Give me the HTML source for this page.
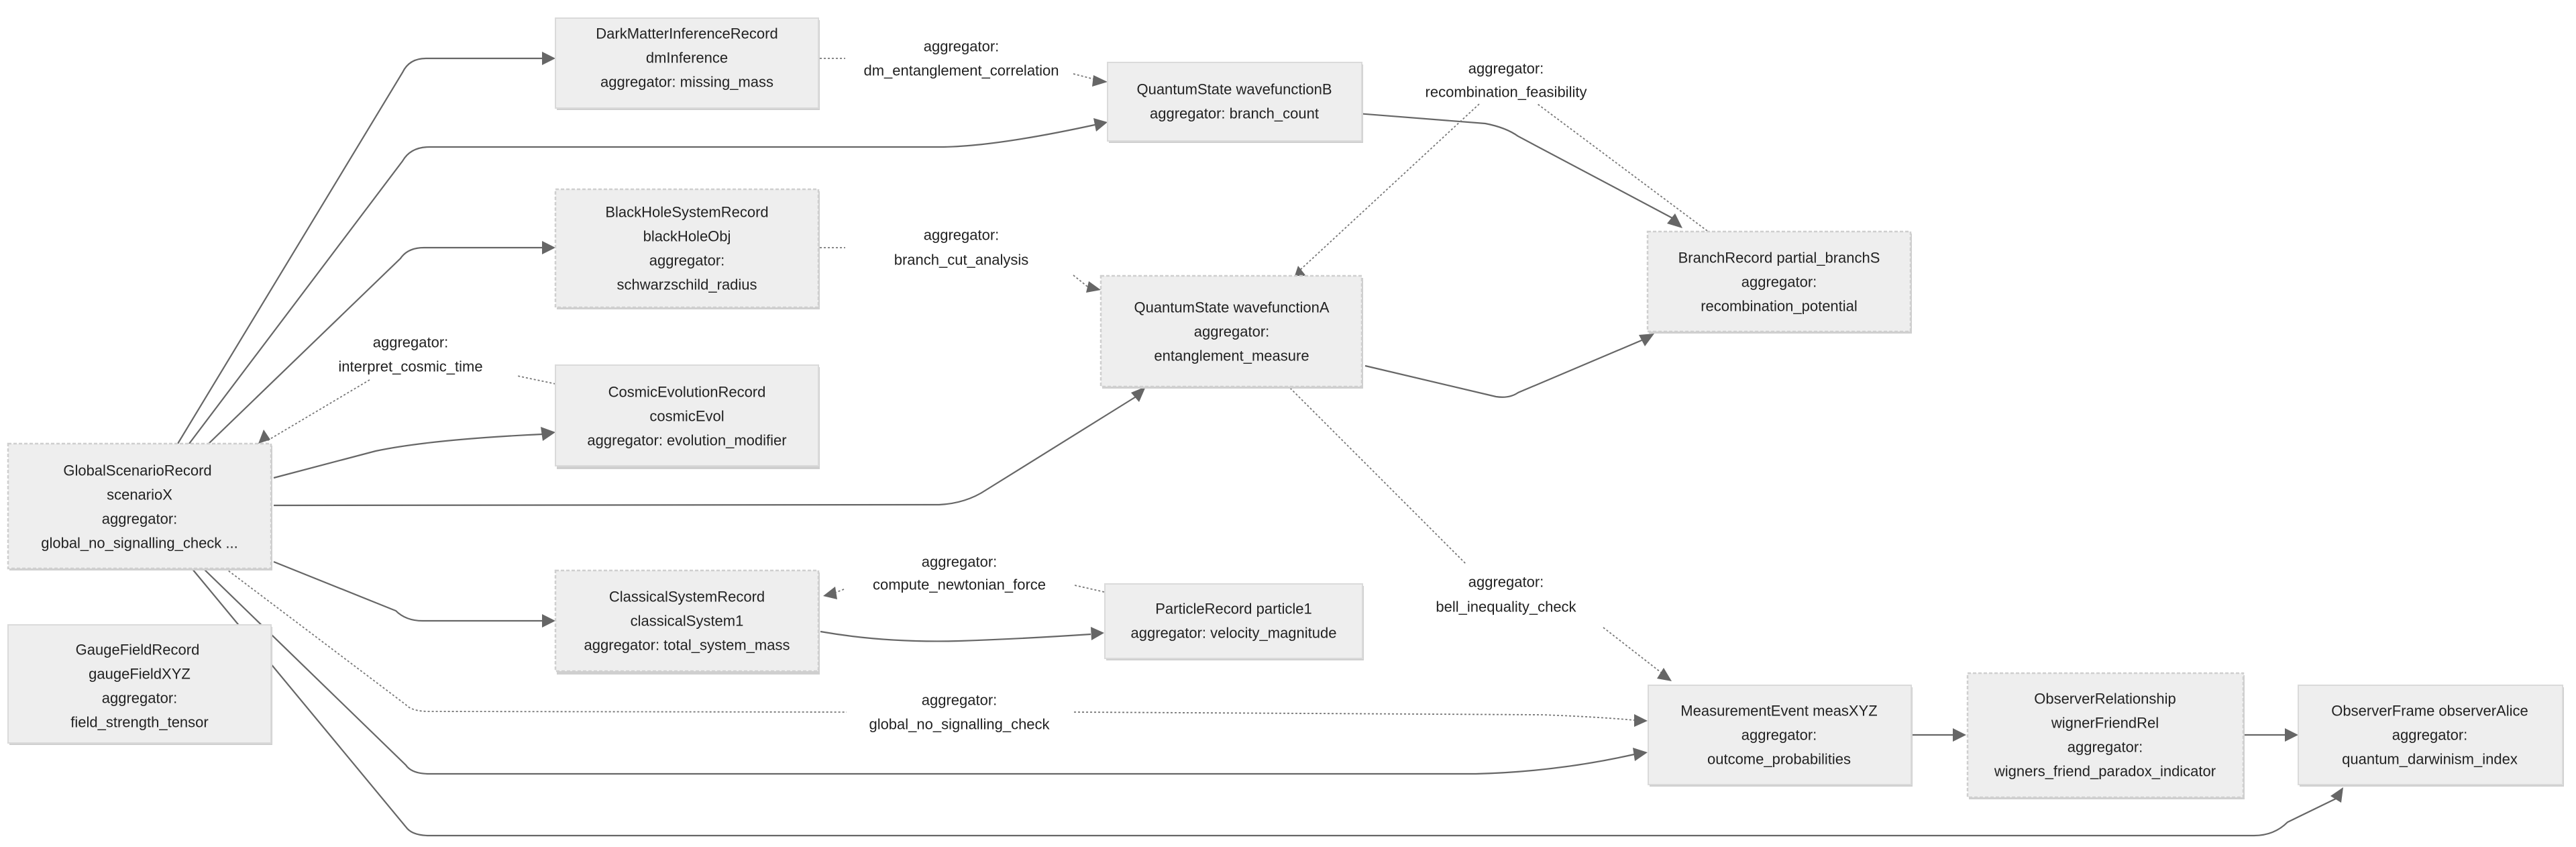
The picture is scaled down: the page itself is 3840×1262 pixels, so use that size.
<!DOCTYPE html>
<html><head><meta charset="utf-8"><style>
html,body{margin:0;padding:0;background:#fff;}
svg{display:block;}
text{font-family:"Liberation Sans",Arial,sans-serif;font-size:22px;fill:#222;text-anchor:middle;dominant-baseline:central;}
.s{fill:none;stroke:#666;stroke-width:2.2;}
.d{fill:none;stroke:#777;stroke-width:1.8;stroke-dasharray:3,3;}
.a{fill:#666;}
.n{fill:#eeeeee;stroke:#dadada;stroke-width:2;}
.nd{fill:#eeeeee;stroke:#cfcfcf;stroke-width:2.5;stroke-dasharray:5,3;}
.sh{fill:#cfcfcf;}
</style></head><body>
<svg width="3840" height="1262" viewBox="0 0 3840 1262" xmlns="http://www.w3.org/2000/svg">
<!-- edges solid -->
<path class="s" d="M265,661 L600,108 Q610,87 635,87 L808,87"/>
<polygon class="a" points="828,87 808,77 808,97"/>
<path class="s" d="M282,661 L600,240 Q612,219 640,219 L1400,219 Q1480,219 1632,186"/>
<polygon class="a" points="1651,182 1630,176 1634,196"/>
<path class="s" d="M311,661 L597,385 Q608,369 632,369 L808,369"/>
<polygon class="a" points="828,369 808,359 808,379"/>
<path class="s" d="M408,712 L560,672 Q640,655 808,647"/>
<polygon class="a" points="828,644 806,636 809,657"/>
<path class="s" d="M408,753 L1400,752 Q1440,750 1470,730 L1695,590"/>
<polygon class="a" points="1708,576 1686,585 1698,599"/>
<path class="s" d="M408,837 L590,910 Q605,925 630,925 L808,925"/>
<polygon class="a" points="828,925 808,915 808,935"/>
<path class="s" d="M303,847 L605,1140 Q614,1153 640,1153 L2200,1153 Q2320,1150 2436,1124"/>
<polygon class="a" points="2456,1121 2434,1114 2437,1134"/>
<path class="s" d="M286,847 L605,1232 Q614,1245 640,1245 L3360,1245 Q3390,1245 3410,1225 L3482,1190"/>
<polygon class="a" points="3493,1173 3474,1186 3490,1196"/>
<path class="s" d="M2023,169 L2214,184 Q2245,190 2263,203 L2495,326"/>
<polygon class="a" points="2508,340 2497,318 2485,333"/>
<path class="s" d="M2035,545 L2230,591 Q2250,594 2263,585 L2452,505"/>
<polygon class="a" points="2466,497 2443,499 2452,516"/>
<path class="s" d="M1223,941 Q1320,958 1430,955 Q1520,952 1626,945"/>
<polygon class="a" points="1646,943 1626,934 1627,954"/>
<path class="s" d="M2849,1095 L2911,1095"/>
<polygon class="a" points="2931,1095 2911,1085 2911,1105"/>
<path class="s" d="M3344,1095 L3406,1095"/>
<polygon class="a" points="3426,1095 3406,1085 3406,1105"/>
<!-- dotted -->
<path class="d" d="M828,572 L771,560"/>
<path class="d" d="M551,566 L396,658"/>
<polygon class="a" points="385,661 393,640 403,655"/>
<path class="d" d="M1222,87 L1260,87"/>
<path class="d" d="M1600,110 L1631,118"/>
<polygon class="a" points="1651,122 1630,112 1628,129"/>
<path class="d" d="M1222,369 L1260,369"/>
<path class="d" d="M1600,410 L1621,427"/>
<polygon class="a" points="1641,432 1623,419 1619,436"/>
<path class="d" d="M2545,344 L2292,155"/>
<path class="d" d="M2205,155 L1935,405"/>
<polygon class="a" points="1928,417 1935,396 1946,410"/>
<path class="d" d="M1919,574 L2185,840"/>
<path class="d" d="M2390,935 L2480,1005"/>
<polygon class="a" points="2492,1015 2480,995 2470,1011"/>
<path class="d" d="M1646,882 L1602,872"/>
<path class="d" d="M1258,878 L1245,883"/>
<polygon class="a" points="1227,888 1245,874 1248,893"/>
<path class="d" d="M336,847 L605,1050 Q614,1060 640,1060 L1262,1061"/>
<path class="d" d="M1601,1061 L2300,1065 Q2380,1068 2436,1073"/>
<polygon class="a" points="2456,1074 2436,1064 2436,1083"/>
<!-- edge labels -->
<text x="612" y="510">aggregator:</text><text x="612" y="546">interpret_cosmic_time</text>
<text x="1433" y="69">aggregator:</text><text x="1433" y="105">dm_entanglement_correlation</text>
<text x="1433" y="350">aggregator:</text><text x="1433" y="387">branch_cut_analysis</text>
<text x="2245" y="102">aggregator:</text><text x="2245" y="137">recombination_feasibility</text>
<text x="2245" y="867">aggregator:</text><text x="2245" y="904">bell_inequality_check</text>
<text x="1430" y="837">aggregator:</text><text x="1430" y="871">compute_newtonian_force</text>
<text x="1430" y="1043">aggregator:</text><text x="1430" y="1079">global_no_signalling_check</text>
<!-- nodes -->
<g>
<rect class="sh" x="830" y="30" width="392" height="134"/>
<rect class="n" x="828" y="27" width="392" height="134"/>
<text x="1024" y="50">DarkMatterInferenceRecord</text><text x="1024" y="86">dmInference</text><text x="1024" y="122">aggregator: missing_mass</text>

<rect class="sh" x="1653" y="96" width="379" height="117"/>
<rect class="n" x="1651" y="93" width="379" height="117"/>
<text x="1840" y="133">QuantumState wavefunctionB</text><text x="1840" y="169">aggregator: branch_count</text>

<rect class="sh" x="830" y="285" width="392" height="176"/>
<rect class="nd" x="828" y="282" width="392" height="176"/>
<text x="1024" y="316">BlackHoleSystemRecord</text><text x="1024" y="352">blackHoleObj</text><text x="1024" y="388">aggregator:</text><text x="1024" y="424">schwarzschild_radius</text>

<rect class="sh" x="1643" y="414" width="389" height="165"/>
<rect class="nd" x="1641" y="411" width="389" height="165"/>
<text x="1836" y="458">QuantumState wavefunctionA</text><text x="1836" y="494">aggregator:</text><text x="1836" y="530">entanglement_measure</text>

<rect class="sh" x="2458" y="348" width="392" height="149"/>
<rect class="nd" x="2456" y="345" width="392" height="149"/>
<text x="2652" y="384">BranchRecord partial_branchS</text><text x="2652" y="420">aggregator:</text><text x="2652" y="456">recombination_potential</text>

<rect class="sh" x="830" y="547" width="392" height="152"/>
<rect class="n" x="828" y="544" width="392" height="150"/>
<text x="1024" y="584">CosmicEvolutionRecord</text><text x="1024" y="620">cosmicEvol</text><text x="1024" y="656">aggregator: evolution_modifier</text>

<rect class="sh" x="14" y="664" width="392" height="186"/>
<rect class="nd" x="12" y="661" width="392" height="186"/>
<text x="205" y="701">GlobalScenarioRecord</text><text x="208" y="737">scenarioX</text><text x="208" y="773">aggregator:</text><text x="208" y="809">global_no_signalling_check ...</text>

<rect class="sh" x="14" y="934" width="392" height="176"/>
<rect class="n" x="12" y="931" width="392" height="176"/>
<text x="205" y="968">GaugeFieldRecord</text><text x="208" y="1004">gaugeFieldXYZ</text><text x="208" y="1040">aggregator:</text><text x="208" y="1076">field_strength_tensor</text>

<rect class="sh" x="830" y="853" width="392" height="152"/>
<rect class="nd" x="828" y="850" width="392" height="150"/>
<text x="1024" y="889">ClassicalSystemRecord</text><text x="1024" y="925">classicalSystem1</text><text x="1024" y="961">aggregator: total_system_mass</text>

<rect class="sh" x="1649" y="873" width="384" height="111"/>
<rect class="n" x="1647" y="870" width="384" height="111"/>
<text x="1839" y="907">ParticleRecord particle1</text><text x="1839" y="943">aggregator: velocity_magnitude</text>

<rect class="sh" x="2459" y="1024" width="392" height="148"/>
<rect class="n" x="2457" y="1021" width="392" height="148"/>
<text x="2652" y="1059">MeasurementEvent measXYZ</text><text x="2652" y="1095">aggregator:</text><text x="2652" y="1131">outcome_probabilities</text>

<rect class="sh" x="2935" y="1006" width="411" height="185"/>
<rect class="nd" x="2933" y="1003" width="411" height="185"/>
<text x="3138" y="1041">ObserverRelationship</text><text x="3138" y="1077">wignerFriendRel</text><text x="3138" y="1113">aggregator:</text><text x="3138" y="1149">wigners_friend_paradox_indicator</text>

<rect class="sh" x="3428" y="1024" width="394" height="148"/>
<rect class="n" x="3426" y="1021" width="394" height="148"/>
<text x="3622" y="1059">ObserverFrame observerAlice</text><text x="3622" y="1095">aggregator:</text><text x="3622" y="1131">quantum_darwinism_index</text>
</g>
</svg>
</body></html>
